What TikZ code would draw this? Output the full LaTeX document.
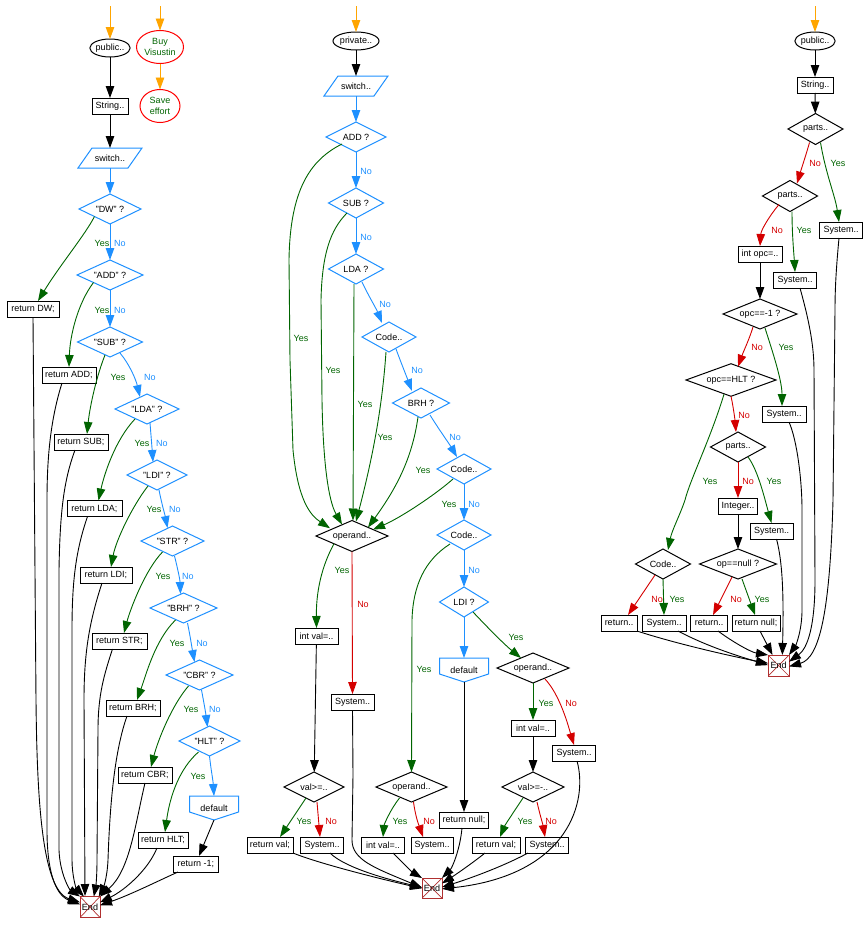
\documentclass[tikz,border=0pt]{standalone}
\usepackage{fontspec}
\setmainfont{Liberation Sans}
\usetikzlibrary{arrows.meta,shapes.geometric}
\definecolor{fb}{HTML}{1E90FF}
\definecolor{fg}{HTML}{006400}
\definecolor{fr}{HTML}{D40000}
\definecolor{fo}{HTML}{FFA500}
\definecolor{fe}{HTML}{B03030}
\tikzset{
  x=1pt,y=-1pt,
  every node/.style={font=\fontsize{9}{10.5}\selectfont,inner sep=0pt,outer sep=0pt},
  sz/.style 2 args={minimum width=#1pt,minimum height=#2pt},
  rb/.style={rectangle,draw=black,line width=1pt},
  el/.style={ellipse,draw=black,line width=1pt},
  dk/.style={diamond,aspect=2,draw=black,line width=1pt},
  db/.style={diamond,aspect=2,draw=fb,line width=1pt},
  rc/.style={ellipse,draw=red,line width=1pt,text=fg,align=center},
  pg/.style={rectangle,append after command={\pgfextra{\let\lastn\tikzlastnode
    \draw[fb,line width=1pt] ([xshift=14pt]\lastn.north west) -- (\lastn.north east)
    -- ([xshift=-14pt]\lastn.south east) -- (\lastn.south west) -- cycle;}}},
  df/.style={rectangle,append after command={\pgfextra{\let\lastn\tikzlastnode
    \draw[fb,line width=1pt] (\lastn.north west) -- (\lastn.north east)
    -- ([yshift=8pt]\lastn.south east) -- (\lastn.south)
    -- ([yshift=8pt]\lastn.south west) -- cycle;}}},
  endb/.style={rectangle,draw=fe,line width=1pt,path picture={
    \draw[fe,line width=.7pt] (path picture bounding box.north west) -- (path picture bounding box.south east);
    \draw[fe,line width=.7pt] (path picture bounding box.north east) -- (path picture bounding box.south west);}},
  ar/.style={-{Triangle[length=12pt,width=8.5pt]},line width=.9pt},
  kl/.style={ar,draw=black},
  bl/.style={ar,draw=fb},
  gl/.style={ar,draw=fg},
  rl/.style={ar,draw=fr},
  ol/.style={ar,draw=fo},
  yl/.style={text=fg},
  nb/.style={text=fb},
  nr/.style={text=fr},
}
\begin{document}
\begin{tikzpicture}
\useasboundingbox (0,0) rectangle (864,926);
% ===== left column nodes =====
\coordinate (s1) at (110,6);
\coordinate (s2) at (160,6);
\coordinate (s3) at (356,6);
\coordinate (s4) at (815,6);
\node[el,sz={40}{18}] (pub1) at (110,48) {public..};
\node[rc,sz={47}{33}] (buy) at (160,47) {Buy\\Visustin};
\node[rc,sz={40}{33}] (save) at (160,106) {Save\\effort};
\node[rb,sz={36}{16}] (str1) at (110,106) {String..};
\node[pg,sz={64}{20}] (sw1) at (110,158) {switch..};
\node[db,sz={62}{30}] (qdw) at (110,209) {"DW" ?};
\node[db,sz={66}{30}] (qadd) at (110,275) {"ADD" ?};
\node[db,sz={65}{30}] (qsub) at (110,342) {"SUB" ?};
\node[db,sz={64}{30}] (qlda) at (147,409) {"LDA" ?};
\node[db,sz={60}{30}] (qldi) at (157,475) {"LDI" ?};
\node[db,sz={63}{30}] (qstr) at (172.5,541) {"STR" ?};
\node[db,sz={67}{30}] (qbrh) at (183.5,608) {"BRH" ?};
\node[db,sz={67}{30}] (qcbr) at (199.5,675) {"CBR" ?};
\node[db,sz={61}{30}] (qhlt) at (209.5,741) {"HLT" ?};
\node[df,sz={49}{24}] (def1) at (214,808) {default};
\node[rb,sz={45}{16}] (rm1) at (196,864) {return -1;};
\node[rb,sz={52}{16}] (rdw) at (33,309) {return DW;};
\node[rb,sz={54}{16}] (radd) at (69,375) {return ADD;};
\node[rb,sz={54}{16}] (rsub) at (81,442) {return SUB;};
\node[rb,sz={55}{16}] (rlda) at (94.5,508.5) {return LDA;};
\node[rb,sz={52}{16}] (rldi) at (106,575) {return LDI;};
\node[rb,sz={55}{16}] (rstr) at (119.5,641) {return STR;};
\node[rb,sz={54}{16}] (rbrh) at (133,708) {return BRH;};
\node[rb,sz={54}{16}] (rcbr) at (145,775) {return CBR;};
\node[rb,sz={50}{16}] (rhlt) at (163,840) {return HLT;};
\node[endb,sz={20}{21}] (e1) at (90,907) {End};
% ===== middle column nodes =====
\node[el,sz={46}{18}] (priv) at (356,41) {private..};
\node[pg,sz={64}{20}] (sw2) at (356,86) {switch..};
\node[db,sz={60}{30}] (madd) at (356,137) {ADD ?};
\node[db,sz={55}{30}] (msub) at (356,203) {SUB ?};
\node[db,sz={55}{30}] (mlda) at (356,269) {LDA ?};
\node[db,sz={54}{30}] (mcd1) at (389,337) {Code..};
\node[db,sz={57}{30}] (mbrh) at (421,403) {BRH ?};
\node[db,sz={54}{30}] (mcd2) at (464,469) {Code..};
\node[db,sz={54}{30}] (mcd3) at (464,535) {Code..};
\node[db,sz={49}{30}] (mldi) at (464,602) {LDI ?};
\node[dk,sz={72}{31}] (op1) at (352,536) {operand..};
\node[df,sz={49}{24}] (def2) at (464,670) {default};
\node[dk,sz={72}{30}] (op3) at (533,668) {operand..};
\node[rb,sz={43}{16}] (iv1) at (316.5,636) {int val=..};
\node[rb,sz={43}{16}] (sy1) at (352.5,702) {System..};
\node[rb,sz={44}{16}] (iv3) at (533,728) {int val=..};
\node[rb,sz={43}{16}] (sy3) at (574,753) {System..};
\node[dk,sz={60}{30}] (vg1) at (314,787) {val>=..};
\node[dk,sz={71}{30}] (op2) at (411.5,787) {operand..};
\node[dk,sz={62}{30}] (vg3) at (533,787) {val>=-..};
\node[rb,sz={46}{16}] (rv1) at (270,845) {return val;};
\node[rb,sz={43}{16}] (sv1) at (322,845) {System..};
\node[rb,sz={43}{16}] (iv2) at (383,845) {int val=..};
\node[rb,sz={42}{16}] (sv2) at (432,845) {System..};
\node[rb,sz={49}{16}] (rn2) at (464,820) {return null;};
\node[rb,sz={48}{16}] (rv3) at (496,845) {return val;};
\node[rb,sz={43}{16}] (sv3) at (547,845) {System..};
\node[endb,sz={20}{20}] (e2) at (432,888) {End};
% ===== right column nodes =====
\node[el,sz={40}{18}] (pub3) at (815,41) {public..};
\node[rb,sz={36}{16}] (str3) at (815,85) {String..};
\node[dk,sz={55}{31}] (pa1) at (815.5,129) {parts..};
\node[rb,sz={43}{16}] (ps1) at (841,230) {System..};
\node[dk,sz={55}{31}] (pa2) at (790,196) {parts..};
\node[rb,sz={44}{16}] (ioc) at (760,254) {int opc=..};
\node[rb,sz={43}{16}] (ps2) at (795,280) {System..};
\node[dk,sz={74}{30}] (opm) at (760,314) {opc==-1 ?};
\node[dk,sz={90}{31}] (oph) at (731,380) {opc==HLT ?};
\node[rb,sz={44}{16}] (ps3) at (784,414) {System..};
\node[dk,sz={55}{30}] (pa3) at (738,447) {parts..};
\node[rb,sz={39}{16}] (intg) at (738,506) {Integer..};
\node[rb,sz={43}{16}] (ps4) at (771.5,531) {System..};
\node[dk,sz={77}{30}] (opn) at (738,564) {op==null ?};
\node[dk,sz={55}{30}] (cd9) at (663,564) {Code..};
\node[rb,sz={36}{16}] (rt1) at (619,623) {return..};
\node[rb,sz={44}{16}] (ps5) at (664,623) {System..};
\node[rb,sz={37}{16}] (rt2) at (709,623) {return..};
\node[rb,sz={48}{16}] (rn3) at (756,623) {return null;};
\node[endb,sz={21}{21}] (e3) at (778.5,665.5) {End};
% ===== labels left =====
\node[yl] (l1) at (102,243) {Yes}; \node[nb] (l2) at (120,243) {No};
\node[yl] (l3) at (102,310) {Yes}; \node[nb] (l4) at (120,310) {No};
\node[yl] (l5) at (118,377) {Yes}; \node[nb] (l6) at (150,377) {No};
\node[yl] (l7) at (142,443) {Yes}; \node[nb] (l8) at (162,443) {No};
\node[yl] (l9) at (154,509) {Yes}; \node[nb] (l10) at (175,509) {No};
\node[yl] (l11) at (163,576) {Yes}; \node[nb] (l12) at (188,576) {No};
\node[yl] (l13) at (177,643) {Yes}; \node[nb] (l14) at (202,643) {No};
\node[yl] (l15) at (191,709.5) {Yes}; \node[nb] (l16) at (215,709.5) {No};
\node[yl] (l17) at (198,776) {Yes};
% ===== labels middle =====
\node[nb] (m1) at (366,171) {No};
\node[nb] (m2) at (366,237) {No};
\node[nb] (m3) at (385,304) {No};
\node[nb] (m4) at (417,370) {No};
\node[nb] (m5) at (455,437) {No};
\node[nb] (m6) at (474,504) {No};
\node[nb] (m7) at (474,570) {No};
\node[yl] (m8) at (301,338) {Yes};
\node[yl] (m9) at (333,370) {Yes};
\node[yl] (m10) at (365,404) {Yes};
\node[yl] (m11) at (385,437) {Yes};
\node[yl] (m12) at (423,470) {Yes};
\node[yl] (m13) at (449,504) {Yes};
\node[yl] (m14) at (424,669) {Yes};
\node[yl] (m15) at (516,637) {Yes};
\node[yl] (m16) at (342,570) {Yes};
\node[nr] (m17) at (363,604) {No};
\node[yl] (m18) at (546,703) {Yes};
\node[nr] (m19) at (571,703) {No};
\node[yl] (m20) at (304,821) {Yes};
\node[nr] (m21) at (331,821) {No};
\node[yl] (m22) at (400,821) {Yes};
\node[nr] (m23) at (429,821) {No};
\node[yl] (m24) at (525,821) {Yes};
\node[nr] (m25) at (551,821) {No};
% ===== labels right =====
\node[nr] (r1) at (815,163) {No};
\node[yl] (r2) at (838,163) {Yes};
\node[nr] (r3) at (777,230) {No};
\node[yl] (r4) at (804,230) {Yes};
\node[nr] (r5) at (757,347) {No};
\node[yl] (r6) at (786,347) {Yes};
\node[yl] (r7) at (710,481) {Yes};
\node[nr] (r8) at (744,415) {No};
\node[nr] (r9) at (748,481) {No};
\node[yl] (r10) at (774,481) {Yes};
\node[nr] (r11) at (736,599) {No};
\node[yl] (r12) at (762,599) {Yes};
\node[nr] (r13) at (657,599) {No};
\node[yl] (r14) at (677,599) {Yes};
% ===== connectors left =====
\draw[ol] (s1) -- (pub1);
\draw[ol] (s2) -- (buy);
\draw[ol] (buy) -- (save);
\draw[ol] (s3) -- (priv);
\draw[ol] (s4) -- (pub3);
\draw[kl] (pub1) -- (str1);
\draw[kl] (str1) -- (sw1.north);
\draw[bl] (sw1.south) -- (qdw);
\draw[bl] (qdw) -- (qadd);
\draw[bl] (qadd) -- (qsub);
\draw[bl] ([xshift=10pt,yshift=4pt]qsub.south) .. controls (130,365) and (136,380) .. ([xshift=-7pt,yshift=-3pt]qlda.north);
\draw[bl] ([xshift=3pt,yshift=1pt]qlda.south) .. controls (151,435) and (152,448) .. ([xshift=-4pt,yshift=-2pt]qldi.north);
\draw[bl] ([xshift=2pt]qldi.south) .. controls (162,505) and (165,515) .. ([xshift=-5pt,yshift=-2pt]qstr.north);
\draw[bl] ([xshift=2pt]qstr.south) .. controls (178,570) and (180,580) .. ([xshift=-3pt,yshift=-1pt]qbrh.north);
\draw[bl] ([xshift=4pt]qbrh.south) .. controls (190,635) and (192,648) .. ([xshift=-5pt,yshift=-2pt]qcbr.north);
\draw[bl] ([xshift=2pt]qcbr.south) .. controls (204,703) and (206,715) .. ([xshift=-2pt,yshift=-1pt]qhlt.north);
\draw[bl] (qhlt.south) .. controls (211,770) and (213,780) .. (def1.north);
\draw[kl] (def1.south) -- ([xshift=3pt]rm1.north);
\draw[gl] (qdw.south west) .. controls (85,235) and (60,265) .. ([xshift=5pt]rdw.north);
\draw[gl] (qadd.south west) .. controls (78,303) and (70,335) .. (radd.north);
\draw[gl] ([xshift=-5pt,yshift=2pt]qsub.south) .. controls (97,375) and (90,405) .. ([xshift=6pt]rsub.north);
\draw[gl] ([xshift=-12pt,yshift=5pt]qlda.south) .. controls (115,440) and (104,475) .. ([xshift=4pt]rlda.north);
\draw[gl] ([xshift=-9pt,yshift=4pt]qldi.south) .. controls (133,505) and (116,540) .. ([xshift=5pt]rldi.north);
\draw[gl] ([xshift=-10pt,yshift=4pt]qstr.south) .. controls (145,570) and (130,610) .. ([xshift=4.5pt]rstr.north);
\draw[gl] ([xshift=-8pt,yshift=3pt]qbrh.south) .. controls (155,640) and (146,675) .. ([xshift=4pt]rbrh.north);
\draw[gl] ([xshift=-11pt,yshift=4pt]qcbr.south) .. controls (172,705) and (158,740) .. ([xshift=6pt]rcbr.north);
\draw[gl] ([xshift=-11pt,yshift=4pt]qhlt.south) .. controls (180,768) and (170,795) .. ([xshift=2pt]rhlt.north);
\draw[kl] (rdw.south) -- (36,700) .. controls (37,800) and (42,890) .. (e1.155);
\draw[kl] ([xshift=-7pt]radd.south) .. controls (52,415) and (47,450) .. (47,500) -- (47,830) .. controls (47,870) and (55,895) .. (e1.165);
\draw[kl] ([xshift=-6pt]rsub.south) .. controls (64,480) and (60,510) .. (59,570) -- (59,850) .. controls (60,875) and (70,890) .. (e1.north west);
\draw[kl] ([xshift=-7pt]rlda.south) .. controls (76,550) and (72,580) .. (72,630) -- (72,860) .. controls (72,875) and (76,888) .. (e1.120);
\draw[kl] ([xshift=-4pt]rldi.south) .. controls (90,620) and (84,650) .. (84,700) -- (85,896);
\draw[kl] ([xshift=-7pt]rstr.south) .. controls (104,675) and (98,695) .. (98,730) -- (97,860) .. controls (97,875) and (96,885) .. (e1.70);
\draw[kl] ([xshift=-6pt]rbrh.south) .. controls (115,750) and (110,800) .. (108,860) .. controls (107,880) and (103,888) .. (e1.50);
\draw[kl] (rcbr.south) .. controls (135,825) and (130,870) .. (e1.north east);
\draw[kl] ([xshift=-6pt]rhlt.south) .. controls (148,870) and (125,890) .. (e1.25);
\draw[kl] ([xshift=-18pt]rm1.south) .. controls (160,880) and (130,895) .. (e1.10);
% ===== connectors middle =====
\draw[kl] (priv) -- (sw2.north);
\draw[bl] (sw2.south) -- (madd);
\draw[bl] (madd) -- (msub);
\draw[bl] (msub) -- (mlda);
\draw[bl] ([xshift=6pt,yshift=2pt]mlda.south) .. controls (368,295) and (376,308) .. ([xshift=-7pt,yshift=-1pt]mcd1.north);
\draw[bl] ([xshift=7pt,yshift=3pt]mcd1.south) .. controls (400,360) and (406,375) .. ([xshift=-9pt,yshift=-3pt]mbrh.north);
\draw[bl] ([xshift=9pt,yshift=3pt]mbrh.south) .. controls (438,428) and (450,445) .. ([xshift=-7pt,yshift=-3pt]mcd2.north);
\draw[bl] (mcd2) -- (mcd3);
\draw[bl] (mcd3) -- (mldi);
\draw[bl] (mldi) -- (def2.north);
\draw[gl] ([xshift=9pt,yshift=5pt]mldi.south) .. controls (490,630) and (505,645) .. ([xshift=-12pt,yshift=-5pt]op3.north);
\draw[gl] ([xshift=-14pt,yshift=8pt]madd.south) .. controls (310,160) and (290,190) .. (289,260) -- (290,360) -- (293,450) .. controls (298,500) and (310,515) .. ([xshift=-4pt]op1.north west);
\draw[gl] ([xshift=-9pt,yshift=5pt]msub.south) .. controls (330,230) and (322,255) .. (321,300) -- (322,400) .. controls (323,460) and (328,500) .. ([xshift=-10pt,yshift=-4pt]op1.north);
\draw[gl] ([xshift=-2pt]mlda.south) -- ([xshift=1pt]op1.north);
\draw[gl] ([xshift=-3pt]mcd1.south) .. controls (382,410) and (372,460) .. ([xshift=4pt,yshift=-1pt]op1.north);
\draw[gl] ([xshift=-3pt,yshift=1pt]mbrh.south) .. controls (412,460) and (395,490) .. ([xshift=16pt,yshift=-7pt]op1.north);
\draw[gl] ([xshift=-11pt,yshift=5pt]mcd2.south) .. controls (435,495) and (400,518) .. ([xshift=21pt,yshift=-9pt]op1.north);
\draw[gl] ([xshift=-14pt,yshift=6pt]mcd3.south) .. controls (425,560) and (413,585) .. (412,620) -- (op2.north);
\draw[gl] (op1.south west) .. controls (325,560) and (316,585) .. (iv1.north);
\draw[rl] (op1.south) -- (sy1.north);
\draw[kl] (iv1) -- (vg1);
\draw[kl] (def2.south) -- (rn2.north);
\draw[gl] ([xshift=-8pt,yshift=4pt]vg1.south) .. controls (298,810) and (288,825) .. ([xshift=10pt]rv1.north);
\draw[rl] ([xshift=3pt]vg1.south) -- ([xshift=-2pt]sv1.north);
\draw[gl] ([xshift=-12pt,yshift=4pt]op2.south) .. controls (390,810) and (384,825) .. (iv2.north);
\draw[rl] ([xshift=2pt]op2.south) .. controls (416,820) and (420,828) .. ([xshift=-9pt]sv2.north);
\draw[gl] ([xshift=-10pt,yshift=4pt]vg3.south) .. controls (515,810) and (505,825) .. ([xshift=4pt]rv3.north);
\draw[rl] ([xshift=4pt]vg3.south) .. controls (540,815) and (543,825) .. ([xshift=-2pt]sv3.north);
\draw[gl] (op3.south) -- (iv3.north);
\draw[rl] ([xshift=12pt,yshift=4pt]op3.south) .. controls (560,695) and (568,725) .. (sy3.north);
\draw[kl] (iv3) -- (vg3);
\draw[kl] (sy1.south) -- (353,775) -- (352,840) .. controls (352,860) and (375,868) .. (e2.178);
\draw[kl] (rv1.south east) .. controls (320,864) and (385,880) .. (e2.182);
\draw[kl] ([xshift=8pt]sv1.south) .. controls (345,868) and (390,880) .. (e2.176);
\draw[kl] ([xshift=10pt]iv2.south) .. controls (400,860) and (412,872) .. (e2.north west);
\draw[kl] ([xshift=-2pt]rn2.south) .. controls (460,850) and (452,868) .. (e2.north east);
\draw[kl] ([xshift=-11pt]rv3.south) .. controls (470,865) and (452,877) .. (e2.25);
\draw[kl] ([xshift=-19pt]sv3.south) .. controls (500,868) and (465,880) .. (e2.5);
\draw[kl] ([xshift=3pt]sy3.south) .. controls (588,800) and (570,875) .. (e2.355);
% ===== connectors right =====
\draw[kl] (pub3) -- (str3);
\draw[kl] (str3) -- (pa1);
\draw[rl] ([xshift=-6pt,yshift=2pt]pa1.south) .. controls (806,155) and (801,170) .. ([xshift=7pt,yshift=-3pt]pa2.north);
\draw[gl] ([xshift=5pt,yshift=2pt]pa1.south) .. controls (826,175) and (835,195) .. ([xshift=-2pt]ps1.north);
\draw[rl] ([xshift=-11pt,yshift=7pt]pa2.south) .. controls (770,215) and (761,230) .. (ioc.north);
\draw[gl] ([xshift=2pt]pa2.south) .. controls (792,235) and (794,255) .. (ps2.north);
\draw[kl] (ioc) -- (opm);
\draw[rl] ([xshift=-7pt,yshift=2pt]opm.south) .. controls (749,340) and (744,350) .. ([xshift=7pt,yshift=-3pt]oph.north);
\draw[gl] ([xshift=5pt,yshift=1pt]opm.south) .. controls (772,350) and (782,380) .. ([xshift=-2pt]ps3.north);
\draw[gl] ([xshift=-7pt,yshift=2pt]oph.south) .. controls (710,440) and (690,480) .. (685,500) .. controls (680,515) and (672,530) .. ([xshift=5pt,yshift=-1pt]cd9.north);
\draw[rl] (oph.south) .. controls (733,405) and (735,420) .. ([xshift=-2pt]pa3.north);
\draw[rl] (pa3.south) -- (intg.north);
\draw[gl] ([xshift=10pt,yshift=5pt]pa3.south) .. controls (758,470) and (765,500) .. (ps4.north);
\draw[kl] (intg) -- (opn);
\draw[rl] ([xshift=-6pt,yshift=2pt]opn.south) -- ([xshift=4pt]rt2.north);
\draw[gl] ([xshift=4pt]opn.south) -- ([xshift=-1pt]rn3.north);
\draw[rl] ([xshift=-8pt,yshift=4pt]cd9.south) -- ([xshift=9pt]rt1.north);
\draw[gl] (cd9.south) -- (ps5.north);
\draw[kl] (rt1.south east) .. controls (680,645) and (740,658) .. (e3.168);
\draw[kl] ([xshift=14pt]ps5.south) .. controls (710,648) and (745,658) .. (e3.178);
\draw[kl] ([xshift=9pt]rt2.south) .. controls (730,640) and (750,652) .. (e3.north west);
\draw[kl] ([xshift=4pt]rn3.south) -- ([xshift=-6pt]e3.north);
\draw[kl] ([xshift=5pt]ps4.south) .. controls (782,560) and (784,590) .. (e3.70);
\draw[kl] ([xshift=5pt]ps3.south) .. controls (797,440) and (802,480) .. (802,510) -- (802,610) .. controls (802,630) and (796,645) .. (e3.45);
\draw[kl] ([xshift=5pt]ps2.south) .. controls (806,310) and (814,340) .. (814,370) -- (815,580) .. controls (815,625) and (808,648) .. (e3.20);
\draw[kl] ([xshift=-2pt]ps1.south) .. controls (836,270) and (835,290) .. (835,310) -- (833,500) .. controls (830,610) and (820,658) .. (e3.355);
\end{tikzpicture}
\end{document}
